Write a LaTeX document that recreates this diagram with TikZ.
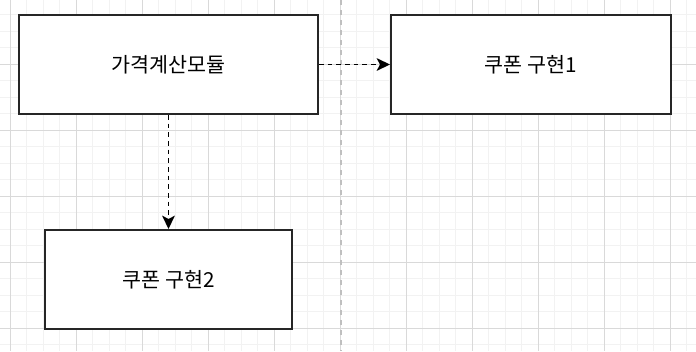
\documentclass[tikz,border=0pt]{standalone}
\usepackage{fontspec}
\newfontfamily\kofont{Noto Sans CJK KR}
\usetikzlibrary{arrows.meta, positioning}

\tikzset{
  module/.style={draw=black!85, line width=1.5pt, fill=white, inner sep=0pt,
    minimum height=74.25pt, font=\kofont\fontsize{15.5}{18}\selectfont},
  depends/.style={draw=black, line width=1.4pt, dash pattern=on 3.5pt off 3pt,
    -{Stealth[length=10pt, width=9.5pt, inset=2.5pt]}},
  minorline/.style={draw=black!5, line width=0.75pt},
  majorline/.style={draw=black!15, line width=0.75pt}
}

\begin{document}
\begin{tikzpicture}[x=0.75pt, y=-0.75pt]
  \useasboundingbox (0,0) rectangle (696,351);
  \fill[white] (0,0) rectangle (696,351);
  % grid
  \begin{scope}
    \clip (0,0) rectangle (696,351);
    \foreach \i in {0,...,43} \draw[minorline] ({-6.5+16.5*\i},0) -- ++(0,351);
    \foreach \j in {0,...,21} \draw[minorline] (0,{-2+16.5*\j}) -- ++(696,0);
    \foreach \i in {0,...,10} \draw[majorline] ({10+66*\i},0) -- ++(0,351);
    \foreach \j in {0,...,5} \draw[majorline] (0,{-2+66*\j}) -- ++(696,0);
  \end{scope}
  \draw[black!25, line width=1.1pt, dash pattern=on 3.5pt off 4pt] (341,0) -- (341,351);

  \node[module, minimum width=224.25pt](modul) at (168.5,64.5) {가격계산모듈};
  \node[module, minimum width=210pt](coupon1) at (531,64.5) {쿠폰 구현1};
  \node[module, minimum width=185.25pt](coupon2) at (168.5,279.5) {쿠폰 구현2};
  \draw[depends] (modul) -- (coupon1);
  \draw[depends] (modul) -- (coupon2);
\end{tikzpicture}
\end{document}
